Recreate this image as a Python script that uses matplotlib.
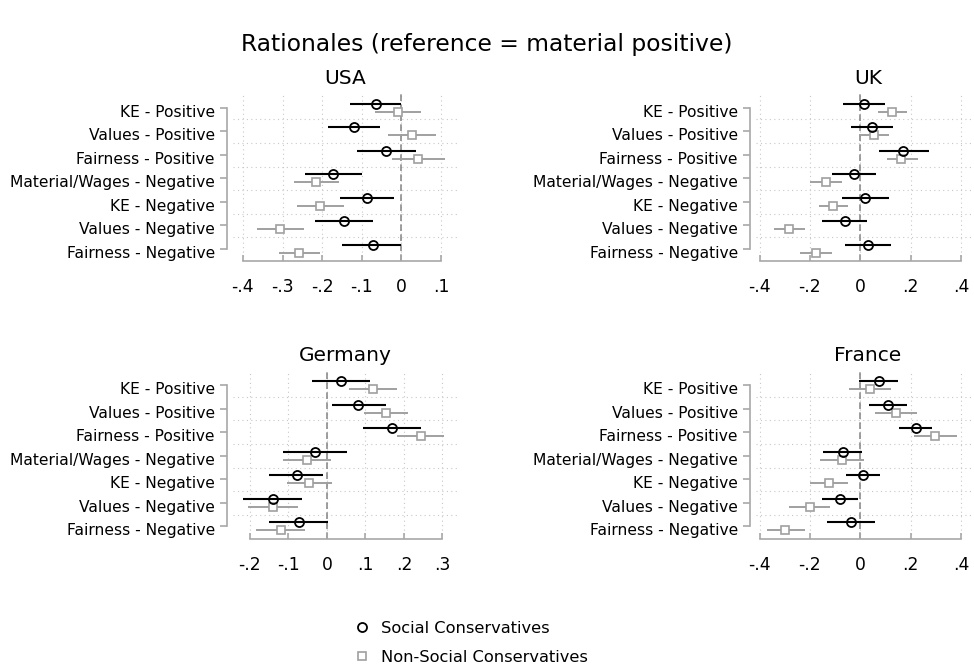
import numpy as np
import matplotlib
matplotlib.use('Agg')
from matplotlib import pyplot as plt
from matplotlib.lines import Line2D
from matplotlib.transforms import ScaledTranslation

plt.rcParams['font.family'] = ['DejaVu Sans']

cats = ['KE - Positive', 'Values - Positive', 'Fairness - Positive',
        'Material/Wages - Negative', 'KE - Negative', 'Values - Negative',
        'Fairness - Negative']

# rows: (estimate, lower, upper)
usa_sc = [(-0.064, -0.130, 0.000), (-0.119, -0.185, -0.053), (-0.038, -0.112, 0.036),
          (-0.173, -0.244, -0.099), (-0.087, -0.154, -0.018), (-0.144, -0.217, -0.072),
          (-0.073, -0.150, 0.000)]
usa_nsc = [(-0.009, -0.066, 0.050), (0.027, -0.034, 0.088), (0.042, -0.024, 0.109),
           (-0.215, -0.272, -0.157), (-0.205, -0.263, -0.144), (-0.306, -0.364, -0.247),
           (-0.258, -0.310, -0.206)]
uk_sc = [(0.016, -0.068, 0.099), (0.048, -0.037, 0.131), (0.171, 0.074, 0.273),
         (-0.026, -0.114, 0.062), (0.020, -0.072, 0.114), (-0.062, -0.151, 0.028),
         (0.032, -0.061, 0.124)]
uk_nsc = [(0.128, 0.072, 0.187), (0.054, -0.004, 0.114), (0.164, 0.105, 0.228),
          (-0.136, -0.200, -0.072), (-0.107, -0.164, -0.050), (-0.282, -0.343, -0.220),
          (-0.176, -0.240, -0.113)]
ger_sc = [(0.036, -0.038, 0.112), (0.082, 0.012, 0.153), (0.169, 0.094, 0.244),
          (-0.030, -0.114, 0.053), (-0.078, -0.150, -0.010), (-0.141, -0.218, -0.064),
          (-0.073, -0.150, 0.003)]
ger_nsc = [(0.119, 0.058, 0.181), (0.153, 0.096, 0.211), (0.244, 0.181, 0.304),
           (-0.053, -0.114, 0.010), (-0.046, -0.103, 0.012), (-0.141, -0.205, -0.076),
           (-0.120, -0.183, -0.057)]
fra_sc = [(0.073, -0.005, 0.151), (0.110, 0.036, 0.185), (0.221, 0.155, 0.287),
          (-0.069, -0.146, 0.007), (0.012, -0.056, 0.079), (-0.081, -0.152, -0.009),
          (-0.037, -0.132, 0.057)]
fra_nsc = [(0.037, -0.046, 0.122), (0.143, 0.057, 0.225), (0.299, 0.215, 0.384),
           (-0.072, -0.159, 0.017), (-0.125, -0.199, -0.049), (-0.201, -0.281, -0.119),
           (-0.297, -0.371, -0.221)]

usa_ticks = [-0.4, -0.3, -0.2, -0.1, 0, 0.1]
uk_ticks = [-0.4, -0.2, 0, 0.2, 0.4]
ger_ticks = [-0.2, -0.1, 0, 0.1, 0.2, 0.3]
fra_ticks = [-0.4, -0.2, 0, 0.2, 0.4]

W, H = 974, 670
GRAY = '#a0a0a0'
AXGRAY = '#a8a8a8'
FS = 11.2

fig = plt.figure(figsize=(W / 100, H / 100), dpi=100)


def tick_fmt(v):
    if v == 0:
        return '0'
    s = '%g' % v
    return s.replace('0.', '.')


def panel(px, title, sc, nsc, ticks, xlim):
    # px = (left, top, right, bottom) in pixels
    l, t, r, b = px
    ax = fig.add_axes([l / W, 1 - b / H, (r - l) / W, (b - t) / H])
    y = np.arange(len(cats))
    sc = np.array(sc)
    nsc = np.array(nsc)
    off = 0.17

    # spine placement first, it resets the tick objects
    for s in ['top', 'right']:
        ax.spines[s].set_visible(False)
    ax.spines['left'].set_position(('outward', 4))

    for v in ticks:
        ax.axvline(v, color='#c8c8c8', lw=0.8, ls=(0, (1, 3)), zorder=0)
    for k in range(len(cats) - 1):
        ax.axhline(k + 0.5, color='#c8c8c8', lw=0.8, ls=(0, (1, 3)), zorder=0)
    ax.axvline(0, color='#8c8c8c', lw=1.2, ls=(0, (4, 2)), zorder=1)

    ax.hlines(y + off, nsc[:, 1], nsc[:, 2], color=GRAY, lw=1.4, zorder=2)
    ax.plot(nsc[:, 0], y + off, 's', ms=6, mfc='white', mec=GRAY, mew=1.2, zorder=3)
    ax.hlines(y - off, sc[:, 1], sc[:, 2], color='black', lw=1.5, zorder=4)
    ax.plot(sc[:, 0], y - off, 'o', ms=6.5, mfc='none', mec='black', mew=1.3, zorder=5)

    ax.set_xlim(*xlim)
    ax.set_ylim(6.51, -0.62)
    ax.set_yticks(y)
    ax.set_yticklabels(cats)
    ax.set_xticks(ticks)
    ax.set_xticklabels([tick_fmt(v) for v in ticks])

    ax.spines['left'].set_bounds(0, 6)
    ax.spines['bottom'].set_bounds(ticks[0], ticks[-1])
    for s in ['left', 'bottom']:
        ax.spines[s].set_color(AXGRAY)
        ax.spines[s].set_linewidth(1.2)
    ax.tick_params(axis='y', direction='out', length=5, width=1.2, color=AXGRAY, pad=4,
                   labelsize=FS)
    ax.tick_params(axis='x', direction='in', length=4, width=1.2, color=AXGRAY, pad=12.5,
                   labelsize=12.3)
    # labels sit a little below their ticks, as in the original
    shift = ScaledTranslation(0, -3 / 100, fig.dpi_scale_trans)
    for lab in ax.get_yticklabels():
        lab.set_transform(lab.get_transform() + shift)
    ax.text(0.5, 1 + 15 / (b - t), title, transform=ax.transAxes, ha='center',
            va='center', fontsize=14.5)
    return ax


panel((233, 93, 457, 261), 'USA', usa_sc, usa_nsc, usa_ticks, (-0.425, 0.140))
panel((756, 93, 980, 261), 'UK', uk_sc, uk_nsc, uk_ticks, (-0.414, 0.476))
panel((233, 370.5, 457, 538.5), 'Germany', ger_sc, ger_nsc, ger_ticks, (-0.244, 0.338))
panel((756, 370.5, 980, 538.5), 'France', fra_sc, fra_nsc, fra_ticks, (-0.414, 0.476))

fig.suptitle('Rationales (reference = material positive)', fontsize=16.8, y=1 - 45 / H, va='center')

handles = [Line2D([], [], ls='none', marker='o', ms=6.5, mfc='none', mec='black', mew=1.3),
           Line2D([], [], ls='none', marker='s', ms=6, mfc='white', mec=GRAY, mew=1.2)]
fig.legend(handles, ['Social Conservatives', 'Non-Social Conservatives'],
           loc='center', bbox_to_anchor=(470 / W, 1 - 643 / H), frameon=False,
           fontsize=11.7, handletextpad=0.6, labelspacing=0.85, handlelength=1.2)

fig.savefig('out.png', dpi=100)
